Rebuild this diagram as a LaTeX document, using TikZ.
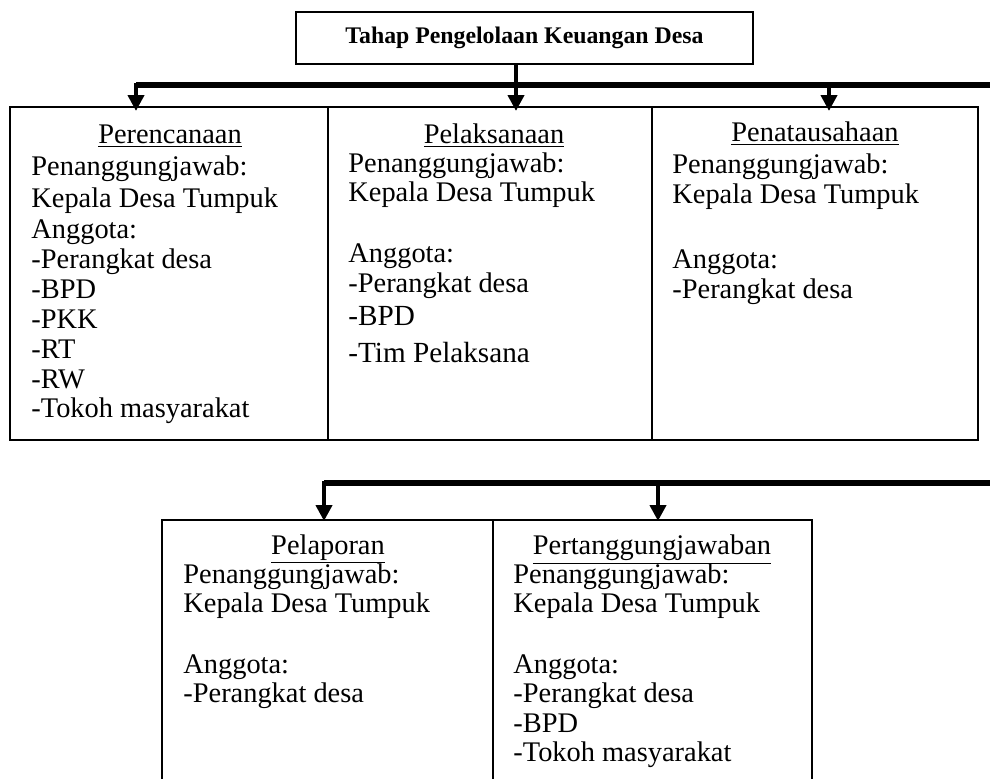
\documentclass[tikz,border=0pt]{standalone}
\usepackage{fontspec}
\setmainfont{Liberation Serif}
\usetikzlibrary{arrows.meta}
\newcommand{\tmsfont}{\fontsize{14.6}{17}\selectfont}
\begin{document}
\begin{tikzpicture}[x=0.5pt,y=-0.5pt,
  frame/.style={draw, line width=0.75pt},
  titlebox/.style={draw, line width=0.75pt, minimum width=228.5pt, minimum height=26pt, inner sep=0pt,
     font=\fontsize{11.9}{13}\selectfont\bfseries},
  bus/.style={line width=2.7pt},
  stem/.style={line width=2pt, -{Triangle[width=8pt,length=8pt]}},
  thin/.style={line width=1.8pt},
  txt/.style={anchor=base west, inner sep=0pt, font=\fontsize{14.2}{16}\selectfont},
  head/.style={anchor=base, inner sep=0pt, font=\fontsize{14.2}{16}\selectfont},
  big/.style={anchor=base west, inner sep=0pt, font=\tmsfont}]
\useasboundingbox (0,0) rectangle (990,778);
\clip (0,0) rectangle (990,778);

% title
\node[titlebox] (title) at (524.5,38) {Tahap Pengelolaan Keuangan Desa};

% first row boxes
\draw[frame] (10,107) rectangle (328,440);
\draw[frame] (328,107) rectangle (652,440);
\draw[frame] (652,107) rectangle (978,440);

% first bus
\coordinate (jt) at (516,85);
\coordinate (j1) at (136,85);
\coordinate (j3) at (829,85);
\coordinate (busend1) at (1000,85);
\coordinate (a1) at (136,111);
\coordinate (a2) at (516,111);
\coordinate (a3) at (829,111);
\draw[thin] (title.south -| jt) -- (jt);
\draw[bus] (busend1) -- (j1);
\draw[stem] ([yshift=1.2pt]j1) -- (a1);
\draw[stem] (jt) -- (a2);
\draw[stem] (j3) -- (a3);

% box 1 text
\node[head] (p1h) at (170,143) {\underline{Perencanaan}};
\node[txt] (p1a) at (31,175) {Penanggungjawab:};
\node[txt] (p1b) at (31,207) {Kepala Desa Tumpuk};
\node[txt] (p1c) at (31,238) {Anggota:};
\node[txt] (p1d) at (31,268) {-Perangkat desa};
\node[txt] (p1e) at (31,298) {-BPD};
\node[txt] (p1f) at (31,328) {-PKK};
\node[txt] (p1g) at (31,358) {-RT};
\node[txt] (p1h2) at (31,388) {-RW};
\node[txt] (p1i) at (31,417) {-Tokoh masyarakat};

% box 2 text
\node[head] (p2h) at (494,143) {\underline{Pelaksanaan}};
\node[txt] (p2a) at (348,172) {Penanggungjawab:};
\node[txt] (p2b) at (348,201) {Kepala Desa Tumpuk};
\node[txt] (p2c) at (348,262) {Anggota:};
\node[txt] (p2d) at (348,292) {-Perangkat desa};
\node[big] (p2e) at (348,325) {-BPD};
\node[big] (p2f) at (348,362) {-Tim Pelaksana};

% box 3 text
\node[head] (p3h) at (815,141) {\underline{Penatausahaan}};
\node[txt] (p3a) at (672,173) {Penanggungjawab:};
\node[txt] (p3b) at (672,203) {Kepala Desa Tumpuk};
\node[txt] (p3c) at (672,268) {Anggota:};
\node[txt] (p3d) at (672,298) {-Perangkat desa};

% second row boxes
\draw[frame] (162,520) rectangle (493,800);
\draw[frame] (493,520) rectangle (812,800);

% second bus
\coordinate (k1) at (324,483);
\coordinate (k2) at (658,483);
\coordinate (busend2) at (1000,483);
\coordinate (c1) at (324,521);
\coordinate (c2) at (658,521);
\draw[bus] (busend2) -- (k1);
\draw[stem] ([yshift=1.2pt]k1) -- (c1);
\draw[stem] (k2) -- (c2);

% box 4 text
\node[head] (p4h) at (328,554) {\underline{Pelaporan}};
\node[txt] (p4a) at (183,583) {Penanggungjawab:};
\node[txt] (p4b) at (183,612) {Kepala Desa Tumpuk};
\node[txt] (p4c) at (183,673) {Anggota:};
\node[txt] (p4d) at (183,702) {-Perangkat desa};

% box 5 text
\node[head] (p5h) at (652,554) {\underline{Pertanggungjawaban}};
\node[txt] (p5a) at (513,583) {Penanggungjawab:};
\node[txt] (p5b) at (513,612) {Kepala Desa Tumpuk};
\node[txt] (p5c) at (513,673) {Anggota:};
\node[txt] (p5d) at (513,702) {-Perangkat desa};
\node[txt] (p5e) at (513,732) {-BPD};
\node[txt] (p5f) at (513,761) {-Tokoh masyarakat};
\end{tikzpicture}
\end{document}
